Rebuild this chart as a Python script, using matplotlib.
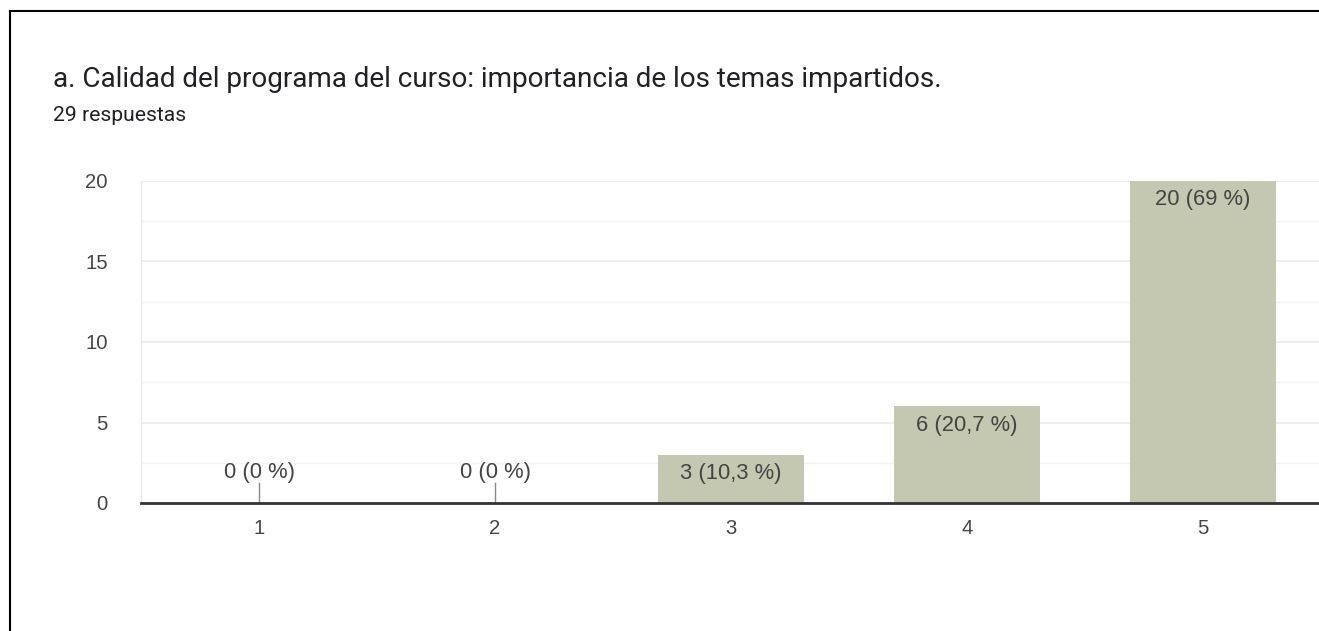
import matplotlib.pyplot as plt
from matplotlib.lines import Line2D

plt.rcParams['font.family'] = ['Roboto', 'DejaVu Sans']

categories = ['1', '2', '3', '4', '5']
counts = [0, 0, 3, 6, 20]
labels = ['0 (0 %)', '0 (0 %)', '3 (10,3 %)', '6 (20,7 %)', '20 (69 %)']
title = 'a. Calidad del programa del curso: importancia de los temas impartidos.'
subtitle = '29 respuestas'

bar_color = '#c5c8b0'
text_color = '#444444'
chart_font = ['Liberation Sans', 'DejaVu Sans']

fig = plt.figure(figsize=(13.19, 6.31), dpi=100)
fig.patch.set_facecolor('white')

# frame of the screenshot (left and top only, rest is cropped)
fig.add_artist(Line2D([9.5 / 1319, 9.5 / 1319], [0, 1 - 11 / 631], color='black', lw=1.5))
fig.add_artist(Line2D([9.5 / 1319, 1], [1 - 11 / 631, 1 - 11 / 631], color='black', lw=1.5))

fig.text(53 / 1319, 1 - 87 / 631, title, fontsize=20.1, color='#202124', va='baseline')
fig.text(53 / 1319, 1 - 121 / 631, subtitle, fontsize=15.2, color='#202124', va='baseline')

ax = fig.add_axes([141 / 1319, 128 / 631, 1180 / 1319, 322 / 631])
x = list(range(1, len(categories) + 1))
ax.bar(x, counts, width=0.615, color=bar_color, zorder=2)

ax.set_xlim(0.5, 5.5)
ax.set_ylim(0, 20)
ax.set_yticks([0, 5, 10, 15, 20])
ax.set_yticks([2.5, 7.5, 12.5, 17.5], minor=True)
ax.set_xticks(x)
ax.set_xticklabels(categories)
ax.grid(axis='y', which='major', color='#ebebeb', lw=1.2, zorder=0)
ax.grid(axis='y', which='minor', color='#f4f4f4', lw=1.0, zorder=0)
ax.tick_params(axis='both', which='both', length=0, labelsize=14.6, colors=text_color)
ax.tick_params(axis='x', pad=11.5)
ax.tick_params(axis='y', pad=24)
for t in ax.get_xticklabels() + ax.get_yticklabels():
    t.set_family(chart_font)

for s in ['top', 'right']:
    ax.spines[s].set_visible(False)
ax.spines['left'].set_color('#e6e6e6')
ax.spines['bottom'].set_color('#333333')
ax.spines['bottom'].set_linewidth(2)
ax.spines['bottom'].set_zorder(3)

for xi, v, lab in zip(x, counts, labels):
    if v == 0:
        ax.plot([xi, xi], [0, 1.25], color='#888888', lw=1, zorder=3)
        ax.text(xi, 1.9, lab, ha='center', va='center', fontsize=15.8,
                color=text_color, family=chart_font)
    else:
        ax.annotate(lab, (xi, v), xytext=(0, -6), textcoords='offset points',
                    ha='center', va='top', fontsize=15.8, color=text_color,
                    family=chart_font)

fig.savefig('out.png', dpi=100)
